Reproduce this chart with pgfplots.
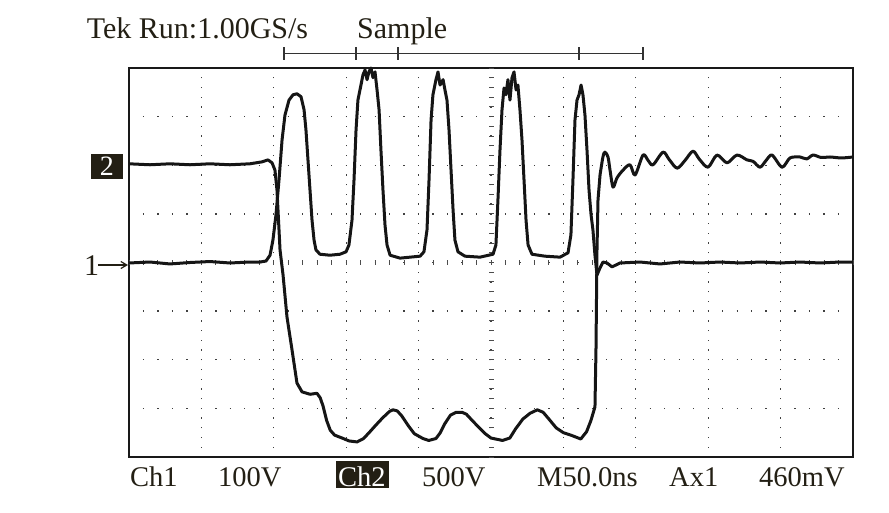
\documentclass[border=0pt]{standalone}
\usepackage{pgfplots}
\pgfplotsset{compat=1.18}
\usepackage{pgfplotstable}
\usepackage{fontspec}
\setmainfont{Liberation Serif}
\usetikzlibrary{arrows.meta}
\definecolor{ink}{HTML}{231F14}
\definecolor{trace}{HTML}{151515}

% Ch1: time (ns), vertical divisions
\pgfplotstableread{
t y
0 -0.01
14.5 0.01
28.3 -0.03
42.1 0.00
55.9 0.02
69.7 -0.01
83.5 0.01
90.5 0.01
94.6 0.03
97.4 0.15
99.4 0.46
101.5 0.98
103.6 1.70
105.7 2.52
107.7 3.03
110.5 3.34
113.3 3.45
116.0 3.47
118.8 3.41
120.9 3.14
122.2 2.73
123.6 2.11
125.0 1.49
126.4 0.87
127.8 0.46
129.1 0.26
131.9 0.17
138.8 0.15
145.7 0.17
149.9 0.22
151.9 0.36
154.0 0.87
155.4 1.70
156.8 2.73
158.1 3.34
160.2 3.65
161.6 3.86
163.0 3.96
164.4 3.76
165.7 3.92
167.1 4.00
168.5 3.80
169.9 3.92
171.3 3.55
172.7 3.14
174.0 2.31
175.4 1.49
176.8 0.77
178.2 0.36
180.3 0.15
187.2 0.09
194.1 0.11
201.0 0.13
203.7 0.22
205.8 0.67
207.2 1.70
208.6 2.93
209.9 3.45
212.0 3.76
213.4 3.92
214.8 3.65
216.9 3.76
218.2 3.55
219.6 3.34
221.0 2.73
222.4 1.90
223.8 1.08
225.1 0.46
227.2 0.22
232.0 0.13
242.4 0.11
251.4 0.17
253.4 0.36
254.8 1.29
256.2 2.31
257.6 3.14
259.0 3.59
260.3 3.45
261.7 3.76
263.1 3.34
264.5 3.80
265.9 3.92
267.3 3.55
268.6 3.65
270.0 3.14
271.4 2.52
272.8 1.70
274.2 0.87
275.6 0.36
278.3 0.17
287.3 0.13
297.7 0.11
303.2 0.20
305.2 0.57
306.6 1.70
308.0 2.93
309.4 3.34
310.8 3.45
312.2 3.65
313.5 3.45
314.9 3.03
316.3 2.31
317.7 1.49
319.1 0.98
320.4 0.67
321.8 0.15
323.2 -0.26
325.3 -0.11
327.3 0.01
330.1 -0.01
333.6 -0.09
339.1 -0.01
352.9 0.01
366.7 -0.03
380.5 0.01
394.3 -0.01
408.1 0.01
422.0 -0.01
435.8 0.01
449.6 -0.01
463.4 0.01
477.2 -0.01
491.0 0.01
500 0.01
}\chone

% Ch2, first part: time (ns), vertical divisions
\pgfplotstableread{
t y
0 2.03
14.5 2.01
28.3 2.03
42.1 2.01
55.9 2.03
69.7 2.01
83.5 2.03
91.9 2.07
96.0 2.11
98.8 2.05
100.8 1.90
102.2 1.49
103.6 0.67
104.3 0.26
106.4 -0.26
109.1 -1.12
112.6 -1.80
116.0 -2.48
119.5 -2.66
125.0 -2.71
129.8 -2.69
132.0 -2.78
134.0 -2.95
136.5 -3.25
139.0 -3.45
142.0 -3.55
148.0 -3.62
152.0 -3.67
157.5 -3.69
162.0 -3.62
166.4 -3.48
170.0 -3.36
175.0 -3.20
180.0 -3.06
182.3 -3.03
185.1 -3.05
188.0 -3.14
193.0 -3.36
197.0 -3.52
203.0 -3.62
207.0 -3.66
212.0 -3.62
215.0 -3.50
218.0 -3.32
222.0 -3.14
226.0 -3.08
230.0 -3.08
233.0 -3.12
238.0 -3.28
246.0 -3.52
250.0 -3.61
258.0 -3.66
263.0 -3.61
267.0 -3.42
272.0 -3.22
277.0 -3.10
282.0 -3.03
286.0 -3.08
290.0 -3.22
295.0 -3.40
300.0 -3.50
306.0 -3.56
312.0 -3.63
316.0 -3.48
319.0 -3.25
321.8 -2.97
322.5 -1.80
323.2 0.26
323.9 1.29
325.3 1.80
}\chtwoa

% Ch2, ringing after the edge
\pgfplotstableread{
t y
325.3 1.80
327.3 2.17
328.7 2.27
330.8 2.17
332.2 1.90
334.3 1.55
337.0 1.74
341.2 1.90
346.0 2.01
349.5 1.80
355.0 2.21
358.5 2.10
361.9 2.01
368.8 2.27
373.0 2.12
378.5 1.94
384.0 2.10
389.5 2.29
394.0 2.12
399.9 1.96
406.1 2.21
413.0 2.05
419.9 2.21
426.8 2.11
431.0 2.08
435.8 1.96
440.0 2.10
444.1 2.21
451.0 1.96
456.5 2.15
463.4 2.17
468.0 2.13
472.4 2.21
478.0 2.16
484.1 2.17
492.0 2.15
500 2.17
}\chtwob

\begin{document}
\begin{tikzpicture}
\useasboundingbox (-129pt,-55pt) rectangle (760pt,457pt);
\begin{axis}[
  at={(0pt,0pt)}, anchor=south west,
  scale only axis, width=724pt, height=389pt,
  xmin=0, xmax=500, ymin=-4, ymax=4,
  xtick={50,100,...,450}, ytick={-3,-2,...,3},
  xticklabels={}, yticklabels={},
  major tick length=0pt,
  grid=major,
  x grid style={draw=black!75, line width=1.3pt, dash pattern=on 1.3pt off 8.425pt, dash phase=0.65pt},
  y grid style={draw=black!75, line width=1.3pt, dash pattern=on 1.3pt off 13.18pt, dash phase=0.65pt},
  axis line style={draw=black!90, line width=1.5pt},
  clip=false,
]
% center-line minor ticks
\draw[black!70, line width=5pt, dash pattern=on 1pt off 8.725pt, dash phase=0.5pt] (axis cs:250,-4) -- (axis cs:250,4);
\draw[black!70, line width=5pt, dash pattern=on 1pt off 13.48pt, dash phase=0.5pt] (axis cs:0,0) -- (axis cs:500,0);
\addplot[trace, line width=3pt, line join=round] table[x=t, y=y] {\chtwoa};
\addplot[trace, line width=3pt, line join=round, smooth, tension=0.5] table[x=t, y=y] {\chtwob};
\addplot[trace, line width=3pt, line join=round] table[x=t, y=y] {\chone};
\end{axis}
% header
\node[anchor=base west, inner sep=0pt, text=ink, font=\fontsize{30}{30}\selectfont] at (-42.3pt,418pt) {Tek Run:1.00GS/s};
\node[anchor=base west, inner sep=0pt, text=ink, font=\fontsize{30}{30}\selectfont] at (228pt,418pt) {Sample};
% trigger bracket
\draw[black!80, line width=1.3pt] (155pt,403.5pt) -- (514pt,403.5pt);
\foreach \xx in {155,227,269,450,514} {\draw[black!80, line width=1.3pt] (\xx pt,397pt) -- (\xx pt,410pt);}
% channel markers
\fill[ink] (-38pt,278pt) rectangle (-6pt,303pt);
\node[anchor=base, inner sep=0pt, text=white, font=\fontsize{28}{28}\selectfont] at (-22pt,281pt) {2};
\node[anchor=base west, inner sep=0pt, text=ink, font=\fontsize{30}{30}\selectfont] at (-45pt,182pt) {1};
\draw[ink, line width=1.2pt, -{Straight Barb[length=6pt,width=7pt]}] (-31pt,192pt) -- (-1pt,192pt);
% footer
\fill[ink] (207pt,-31pt) rectangle (260pt,-4pt);
\begin{scope}[every node/.style={anchor=base west, inner sep=0pt, text=ink, font=\fontsize{28.5}{28.5}\selectfont}]
\node at (1pt,-29pt) {Ch1};
\node at (89pt,-29pt) {100V};
\node[text=white] at (209pt,-29pt) {Ch2};
\node at (293pt,-29pt) {500V};
\node at (408pt,-29pt) {M50.0ns};
\node at (540pt,-29pt) {Ax1};
\node at (630pt,-29pt) {460mV};
\end{scope}
\end{tikzpicture}
\end{document}
